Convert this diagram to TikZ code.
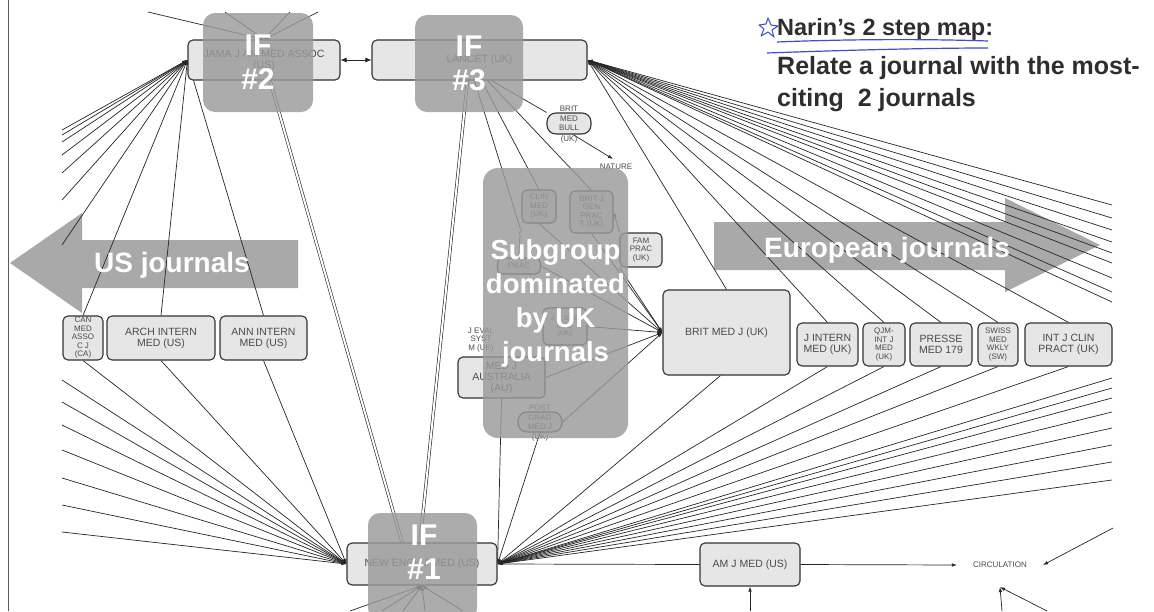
\documentclass[tikz,border=0pt]{standalone}
\usepackage{fontspec}
\setmainfont{Liberation Sans}
\usetikzlibrary{arrows.meta}
\pgfdeclarelayer{back}
\pgfdeclarelayer{wires}
\pgfsetlayers{back,wires,main}
\definecolor{boxfill}{HTML}{E6E6E6}
\definecolor{ovl}{HTML}{9A9A9A}
\definecolor{arrowgray}{HTML}{A9A9A9}
\definecolor{jtext}{HTML}{4A4A4A}
\definecolor{titletext}{HTML}{2E2E2E}
\definecolor{pen}{HTML}{3A4FD0}
\begin{document}
\begin{tikzpicture}[x=1pt,y=-1pt,
  sz/.style 2 args={minimum width=#1pt,minimum height=#2pt},
  jn/.style={draw=black!80, line width=1.1pt, fill=boxfill, rounded corners=5pt, text=jtext, align=center, inner sep=0pt, font=\fontsize{10.5}{11}\selectfont},
  js/.style={jn, font=\fontsize{8}{8.5}\selectfont},
  pill/.style={js, rounded corners=9pt},
  lbl/.style={text=jtext, font=\fontsize{8}{8.5}\selectfont, inner sep=0.5pt, align=center},
  ln/.style={line width=0.7pt, draw=black!85},
  la/.style={ln, -{Latex[length=5pt,width=3.5pt]}},
  dbl/.style={line width=0.6pt, draw=black!85, double=white, double distance=2pt},
  ifbox/.style={fill=ovl, fill opacity=0.82, text opacity=1, text=white, rounded corners=12pt, align=center, inner sep=0pt, font=\bfseries\fontsize{30}{34}\selectfont},
  iftxt/.style={text=white, align=center, inner sep=0pt, font=\bfseries\fontsize{30}{34}\selectfont},
  bigw/.style={text=white, font=\bfseries\fontsize{28}{30}\selectfont, inner sep=0pt},
  ttl/.style={text=titletext, anchor=base west, inner sep=0pt, font=\bfseries\fontsize{24}{28}\selectfont}
]
\useasboundingbox (0,0) rectangle (1154,611);
\begin{pgfonlayer}{back}
  \fill[white] (0,0) rectangle (1154,611);
  \draw[line width=0.8pt, black!65] (8,0) -- (8,611);
  \fill[arrowgray] (10,263) -- (82,213) -- (82,240) -- (298,240) -- (298,288) -- (82,288) -- (82,313) -- cycle;
  \fill[arrowgray] (714,222) -- (1005,222) -- (1005,198) -- (1100,245) -- (1005,292) -- (1005,270) -- (714,270) -- cycle;
\end{pgfonlayer}

% journal nodes
\node[jn,sz={152}{40}] (jama) at (264,60) {JAMA J AM MED ASSOC\\(US)};
\node[jn,sz={215}{40}] (lancet) at (479.5,60) {LANCET (UK)};
\node[pill,sz={44}{21},label={[lbl]above:BRIT},label={[lbl]below:(UK)}] (bmb) at (569,123.5) {MED\\BULL};
\node[lbl,inner sep=5pt] (nature) at (616,167) {NATURE};
\node[js,sz={34}{33}] (clin) at (539,206.5) {CLIN\\MED\\(UK)};
\node[js,sz={43}{42}] (bjgp) at (591.5,212) {BRIT J\\GEN\\PRAC\\T (UK)};
\node[js,sz={42}{34}] (fam) at (641,250) {FAM\\PRAC\\(UK)};
\node[js,sz={43}{16}] (prac) at (519,266) {PRAC};
\node[lbl] (pracj) at (520,231) {J};
\node[js,sz={44}{37},font=\fontsize{7}{7.5}\selectfont] (jrsoc) at (565,326.5) {J R SOC\\MED\\(UK)};
\node[lbl] (jrlab) at (481,340) {J EVAL\\SYST\\M (UK)};
\node[jn,sz={87}{41}] (medjaus) at (501.5,377.5) {MED J\\AUSTRALIA\\(AU)};
\node[pill,sz={44}{20},label={[lbl]above:POST},label={[lbl]below:(UK)}] (postgrad) at (540,422) {GRAD\\MED J};
\node[jn,sz={127}{85}] (bmj) at (726.5,332.5) {BRIT MED J (UK)};
\node[jn,sz={61}{43}] (jintern) at (827.5,344.5) {J INTERN\\MED (UK)};
\node[js,sz={42}{43}] (qjm) at (884,344.5) {QJM-\\INT J\\MED\\(UK)};
\node[jn,sz={62}{43}] (presse) at (941,344.5) {PRESSE\\MED 179};
\node[js,sz={40}{43}] (swiss) at (998,344.5) {SWISS\\MED\\WKLY\\(SW)};
\node[jn,sz={87}{43}] (intj) at (1068.5,344.5) {INT J CLIN\\PRACT (UK)};
\node[js,sz={40}{44}] (canmed) at (83,338) {CAN\\MED\\ASSO\\C J\\(CA)};
\node[jn,sz={108}{44}] (arch) at (161,338) {ARCH INTERN\\MED (US)};
\node[jn,sz={87}{44}] (ann) at (263.5,338) {ANN INTERN\\MED (US)};
\node[jn,sz={150}{42}] (nejm) at (422,564) {NEW ENGL J MED (US)};
\node[jn,sz={100}{43}] (amj) at (750,564.5) {AM J MED (US)};
\node[lbl,inner xsep=16pt,inner ysep=19pt] (circ) at (1000,565) {CIRCULATION};

\begin{pgfonlayer}{wires}
  % into JAMA
  \foreach \y [count=\i] in {130,135,142,155,173,200,245} \draw[la] (62,\y) coordinate (jl\i) -- (jama.west);
  \foreach \n in {canmed,arch,ann} \draw[la] (\n.north) -- (jama.west);
  \foreach \x [count=\i] in {148,225,290,318} \draw[la] (\x,12) coordinate (jt\i) -- (jama.north);
  \draw[ln,{Latex[length=6pt,width=5pt]}-{Latex[length=6pt,width=5pt]}] (jama.east) -- (lancet.west);
  % double links to NEJM
  \draw[dbl] ([xshift=6pt]jama.south) -- ([xshift=-20pt]nejm.north);
  \draw[dbl] ([xshift=-12pt]lancet.south) -- ([xshift=-2pt]nejm.north);
  % Lancet downwards
  \draw[ln] ([xshift=-5pt]lancet.south) -- (pracj.north);
  \draw[ln] (pracj.south) -- (prac.north);
  \draw[ln] ([xshift=2pt]lancet.south) -- (clin.north);
  \draw[ln] ([xshift=8pt]lancet.south) -- (bjgp.north);
  \draw[ln] ([xshift=12pt]lancet.south) -- (bmb.north west);
  \draw[la] ([xshift=4pt]bmb.south) -- ([xshift=-3pt]nature.north);
  % into BMJ
  \foreach \s in {fam.south west,bjgp.south,clin.south,prac.east,jrsoc.east,medjaus.east,postgrad.east} \draw[la] (\s) -- (bmj.west);
  \draw[la] (fam.north west) -- (bjgp.east);
  \draw[la] (bmj.north) -- (lancet.east);
  % into Lancet from the right
  \foreach \n in {jintern,qjm,presse,swiss,intj} \draw[la] (\n.north) -- (lancet.east);
  \foreach \y [count=\i] in {205,218,230,242,253,263,278,292,302} \draw[la] (1112,\y) coordinate (lr\i) -- (lancet.east);
  % into NEJM from the right
  \foreach \n in {jintern,qjm,presse,swiss,intj} \draw[la] (\n.south) -- (nejm.east);
  \draw[la] ([xshift=-6pt]bmj.south) -- (nejm.east);
  \foreach \y [count=\i] in {378,388,398,412,428,445,462,480} \draw[la] (1112,\y) coordinate (nr\i) -- (nejm.east);
  \draw[la] (medjaus.south) -- (nejm.east);
  \draw[la] (postgrad.south) -- (nejm.east);
  % into NEJM from the left
  \foreach \n in {canmed,arch,ann} \draw[la] (\n.south) -- (nejm.west);
  \foreach \y [count=\i] in {380,402,425,450,478,505,532} \draw[la] (62,\y) coordinate (nl\i) -- (nejm.west);
  % into NEJM from below
  \foreach \x [count=\i] in {350,382,403,425,463} \draw[la] (\x,611) coordinate (nb\i) -- (nejm.south);
  % AM J MED and CIRCULATION
  \draw[ln] (nejm.east) -- (amj.west);
  \draw[la] (amj.east) -- (circ.west);
  \draw[la] (750,611) coordinate (ab) -- (amj.south);
  \draw[la] (1113,528) coordinate (cr) -- (circ.east);
  \draw[la] (1002,611) coordinate (cb1) -- (circ.south);
  \draw[la] (1047,611) coordinate (cb2) -- (circ.south);
\end{pgfonlayer}

% overlays
\node[ifbox,sz={110}{99}] (if2) at (258,62.5) {IF\\\#2};
\node[ifbox,sz={108}{97}] (if3) at (469,63.5) {IF\\\#3};
\node[ifbox,sz={109}{107}] (if1) at (422.5,566.5) {};
\node[iftxt] (if1t) at (424,552) {IF\\\#1};
\node[ifbox,sz={145}{270},rounded corners=15pt,font=\bfseries\fontsize{27.5}{34}\selectfont] (sub) at (555.5,303) {Subgroup\\dominated\\by UK\\journals};
\node[bigw] (usj) at (172,265) {US journals};
\node[bigw] (euj) at (887,250) {European journals};

% title
\node[ttl,font=\bfseries\fontsize{23.5}{28}\selectfont] (t1) at (777,35) {Narin's 2 step map:};
\node[ttl,font=\bfseries\fontsize{25}{28}\selectfont] (t2) at (777,74) {Relate a journal with the most-};
\node[ttl,font=\bfseries\fontsize{25}{28}\selectfont] (t3) at (777,106) {citing\ \ 2 journals};
\draw[pen, line width=1pt, line join=round] (768,18) -- (771,25) -- (778,26) -- (772,30) -- (774,37) -- (768,32) -- (761,36) -- (764,29) -- (759,25) -- (766,24) -- cycle;
\draw[pen, line width=1.2pt] (777,42) .. controls (850,39) and (930,39) .. (988,41);
\draw[pen, line width=1.2pt] (767,53) .. controls (850,50) and (930,48) .. (988,48);
\end{tikzpicture}
\end{document}
